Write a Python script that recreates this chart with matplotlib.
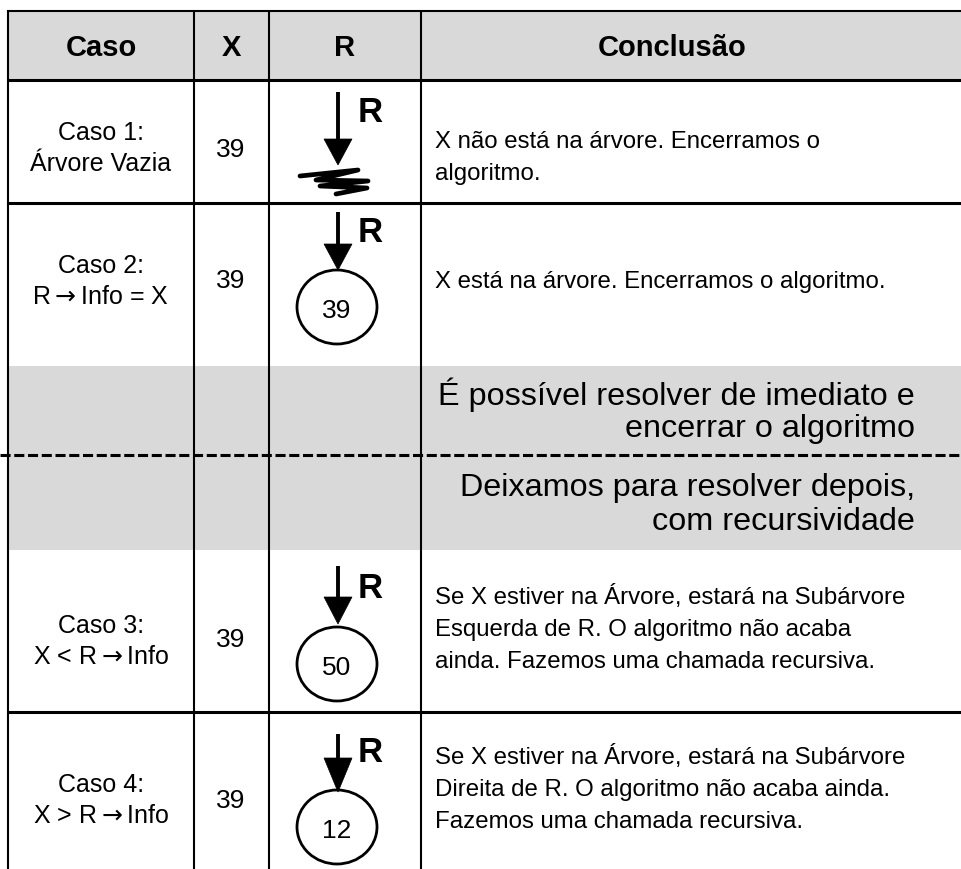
import matplotlib
matplotlib.use("Agg")
import matplotlib.pyplot as plt
from matplotlib.patches import Rectangle, Ellipse, Polygon

# table content
headers = ["Caso", "X", "R", "Conclusão"]
case_labels = [["Caso 1:", "Árvore Vazia"],
               ["Caso 2:", "R$\\rightarrow$Info = X"],
               ["Caso 3:", "X < R$\\rightarrow$Info"],
               ["Caso 4:", "X > R$\\rightarrow$Info"]]
x_values = ["39", "39", "39", "39"]
node_values = [None, "39", "50", "12"]
conclusions = [
    ["X não está na árvore. Encerramos o", "algoritmo."],
    ["X está na árvore. Encerramos o algoritmo."],
    ["Se X estiver na Árvore, estará na Subárvore",
     "Esquerda de R. O algoritmo não acaba",
     "ainda. Fazemos uma chamada recursiva."],
    ["Se X estiver na Árvore, estará na Subárvore",
     "Direita de R. O algoritmo não acaba ainda.",
     "Fazemos uma chamada recursiva."],
]
note_immediate = ["É possível resolver de imediato e", "encerrar o algoritmo"]
note_later = ["Deixamos para resolver depois,", "com recursividade"]

# layout in pixels (y grows downwards)
W, H = 962, 870
col_x = [8, 194, 269, 421, W]
header_y = (12, 81)
row_lines = [81, 204, 713]
gray_y = (367, 551)
dash_y = 456
case_cy = [146, 279, 639, 798]
x_cy = [150, 281, 640, 801]
concl_cy = [158, 282, 630, 790]

body = ["Liberation Sans", "DejaVu Sans"]
GRAY = "#d9d9d9"

fig = plt.figure(figsize=(W / 100, H / 100), dpi=100)
ax = fig.add_axes([0, 0, 1, 1])
ax.set_xlim(0, W)
ax.set_ylim(H, 0)
ax.axis("off")

# backgrounds
ax.add_patch(Rectangle((col_x[0], header_y[0]), W - col_x[0], header_y[1] - header_y[0],
                       facecolor=GRAY, edgecolor="none"))
ax.add_patch(Rectangle((col_x[0], gray_y[0]), W - col_x[0], gray_y[1] - gray_y[0],
                       facecolor=GRAY, edgecolor="none"))

# grid lines
for x in col_x[:-1]:
    ax.plot([x, x], [header_y[0], H], color="black", lw=1.5, solid_capstyle="butt")
ax.plot([col_x[0], W], [header_y[0]] * 2, color="black", lw=1.5)
for y in row_lines:
    ax.plot([col_x[0], W], [y, y], color="black", lw=2.2)
ax.plot([0, W], [dash_y, dash_y], color="black", lw=2.2, dashes=(3.3, 1.2))

# header
hy = sum(header_y) / 2
head_cx = [(col_x[0] + col_x[1]) / 2, (col_x[1] + col_x[2]) / 2,
           (col_x[2] + col_x[3]) / 2, 672]
for cx, label in zip(head_cx, headers):
    ax.text(cx, hy + 1, label, ha="center", va="center", fontsize=21,
            fontweight="bold", family=body)

for i in range(4):
    lines = case_labels[i]
    for k, t in enumerate(lines):
        yy = case_cy[i] + (k - (len(lines) - 1) / 2) * 31
        ax.text(101, yy, t, ha="center", va="center_baseline", fontsize=18, family=body)
    ax.text(231, x_cy[i], x_values[i], ha="center", va="center", fontsize=19, family=body)
    lines = conclusions[i]
    for k, t in enumerate(lines):
        yy = concl_cy[i] + (k - (len(lines) - 1) / 2) * 32.5
        ax.text(435, yy, t, ha="left", va="center", fontsize=17.3, family=body)

# notes in gray band
for k, t in enumerate(note_immediate):
    ax.text(915, 395 + k * 34, t, ha="right", va="center", fontsize=23.3, family=body)
for k, t in enumerate(note_later):
    ax.text(915, 488 + k * 34, t, ha="right", va="center", fontsize=23.3, family=body)


def pointer(x, top, head, tip, label_y):
    ax.plot([x, x], [top, head + 2], color="black", lw=2.8, solid_capstyle="butt")
    ax.add_patch(Polygon([(x - 14, head), (x + 14, head), (x, tip)],
                         closed=True, facecolor="black", edgecolor="black", lw=0.5))
    ax.text(x + 20, label_y, "R", ha="left", va="center", fontsize=25,
            fontweight="bold", family=body)


# R column drawings
ptr = [(93, 140, 166, 113), (213, 245, 271, 232), (567, 598, 625, 589), (735, 759, 793, 753)]
node_c = [None, 308, 665, 828]
for i in range(4):
    top, head, tip, ly = ptr[i]
    pointer(338, top, head, tip, ly)
    if node_values[i] is None:
        sq_x = [300, 358, 316, 368, 320, 367, 336]
        sq_y = [177, 171, 181, 182, 187, 189, 195]
        ax.plot(sq_x, sq_y, color="black", lw=3.4, solid_joinstyle="round",
                solid_capstyle="round")
    else:
        ax.add_patch(Ellipse((337, node_c[i]), 80, 74, fill=False,
                             edgecolor="black", lw=2))
        ax.text(337, node_c[i] + 3, node_values[i], ha="center", va="center",
                fontsize=19, family=body)

fig.savefig("out.png", dpi=100)
